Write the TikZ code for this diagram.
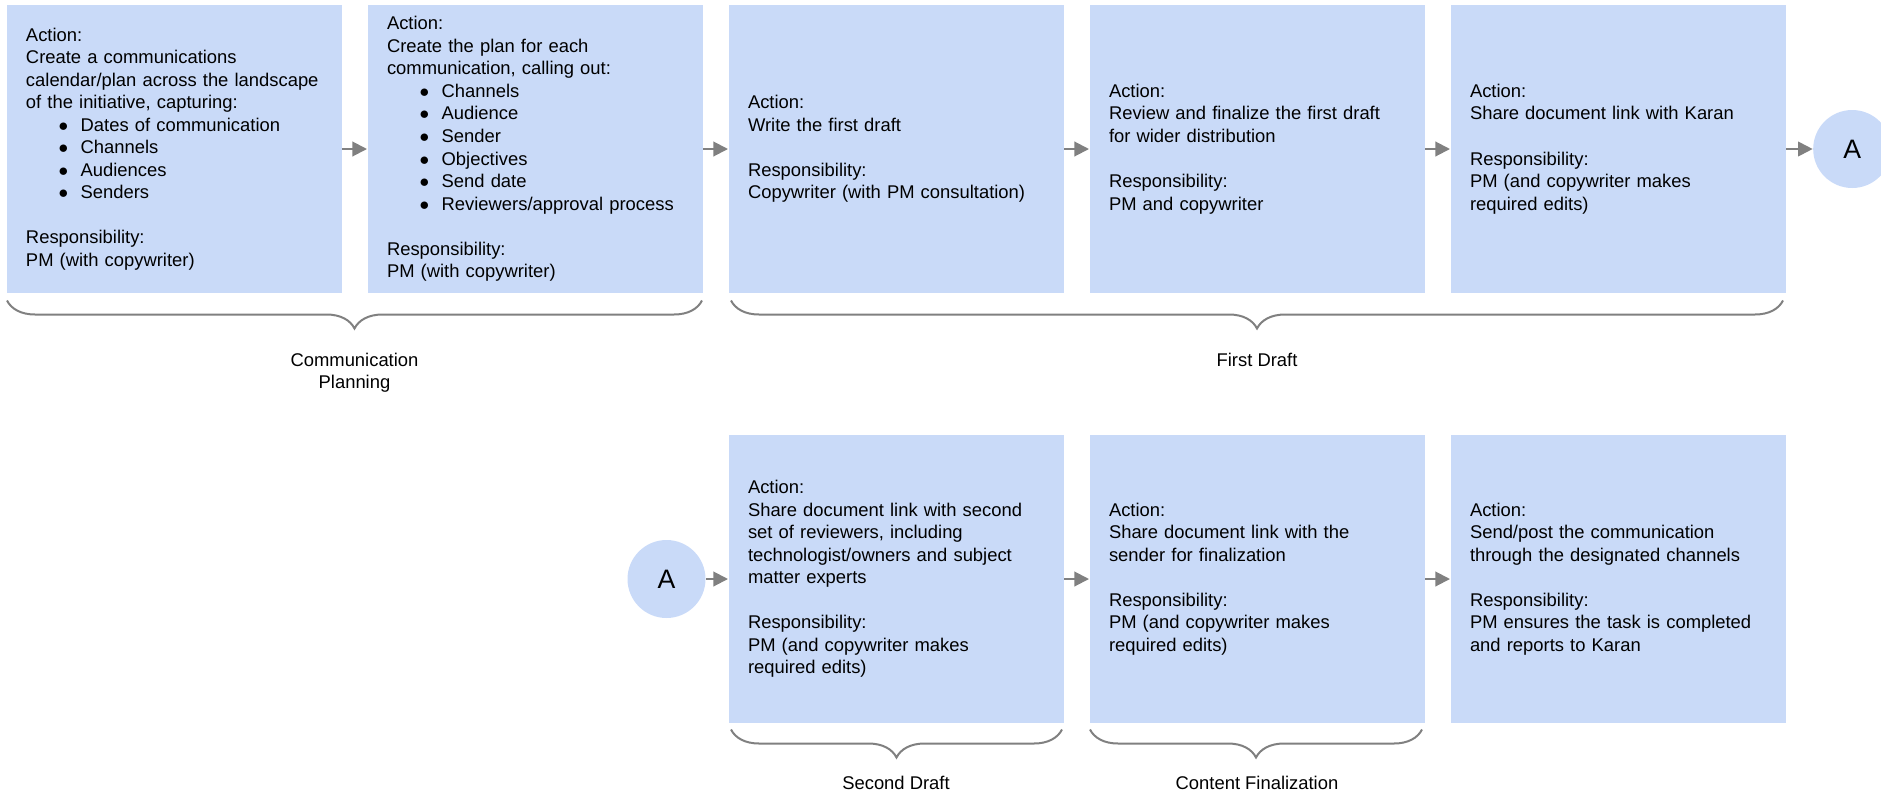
\documentclass[tikz,border=0pt]{standalone}
\usepackage{fontspec}
\setmainfont{Liberation Sans}
\usetikzlibrary{positioning,calc,arrows.meta,decorations.pathreplacing}

\definecolor{boxblue}{RGB}{201,218,248}
\definecolor{linegray}{RGB}{128,128,128}
\newcommand{\bitem}[1]{\makebox[41pt][l]{\hspace*{24.5pt}$\bullet$}#1}

\tikzset{every picture/.style={line width=0.75pt}}
\tikzset{
  stepbox/.style={fill=boxblue, minimum width=251.25pt, minimum height=216pt, text width=222pt, inner sep=0pt, align=left, font=\fontsize{13.8}{16.9}\selectfont},
  linkcircle/.style={circle, fill=boxblue, minimum size=58.5pt, inner sep=0pt, font=\fontsize{20}{24}\selectfont},
  flowarrow/.style={draw=linegray, line width=1.5pt, -{Triangle[length=11pt,width=11pt]}},
  phasebrace/.style={draw=linegray, line width=1.5pt, decorate, decoration={brace, mirror, amplitude=21pt}},
  phaselabel/.style={anchor=north, inner sep=0pt, align=center, font=\fontsize{13.8}{16.9}\selectfont}
}

\begin{document}
\begin{tikzpicture}[x=0.75pt,y=0.75pt,yscale=-1,xscale=1]
\useasboundingbox (0,0) rectangle (1881,793);

% Row 1
\node[stepbox] (b1) at (174,149) {Action:\\Create a communications\\calendar/plan across the landscape\\of the initiative, capturing:\\
  \bitem{Dates of communication}\\\bitem{Channels}\\\bitem{Audiences}\\\bitem{Senders}\\[16.9pt]
  Responsibility:\\PM (with copywriter)};
\node[stepbox, right=18.75pt of b1] (b2) {Action:\\Create the plan for each\\communication, calling out:\\
  \bitem{Channels}\\\bitem{Audience}\\\bitem{Sender}\\\bitem{Objectives}\\\bitem{Send date}\\\bitem{Reviewers/approval process}\\[16.9pt]
  Responsibility:\\PM (with copywriter)};
\node[stepbox, right=18.75pt of b2] (b3) {Action:\\Write the first draft\\[16.9pt]Responsibility:\\Copywriter (with PM consultation)};
\node[stepbox, right=18.75pt of b3] (b4) {Action:\\Review and finalize the first draft\\for wider distribution\\[16.9pt]Responsibility:\\PM and copywriter};
\node[stepbox, right=18.75pt of b4] (b5) {Action:\\Share document link with Karan\\[16.9pt]Responsibility:\\PM (and copywriter makes\\required edits)};
\node[linkcircle, right=20pt of b5] (a1) {A};

% Row 2
\node[stepbox, below=105.75pt of b3] (b6) {Action:\\Share document link with second\\set of reviewers, including\\technologist/owners and subject\\matter experts\\[16.9pt]Responsibility:\\PM (and copywriter makes\\required edits)};
\node[stepbox, right=18.75pt of b6] (b7) {Action:\\Share document link with the\\sender for finalization\\[16.9pt]Responsibility:\\PM (and copywriter makes\\required edits)};
\node[stepbox, right=18.75pt of b7] (b8) {Action:\\Send/post the communication\\through the designated channels\\[16.9pt]Responsibility:\\PM ensures the task is completed\\and reports to Karan};
\node[linkcircle, left=16.5pt of b6] (a2) {A};

% Arrows
\draw[flowarrow] (b1.east) -- (b2.west);
\draw[flowarrow] (b2.east) -- (b3.west);
\draw[flowarrow] (b3.east) -- (b4.west);
\draw[flowarrow] (b4.east) -- (b5.west);
\draw[flowarrow] (b5.east) -- (a1.west);
\draw[flowarrow] (a2.east) -- (b6.west);
\draw[flowarrow] (b6.east) -- (b7.west);
\draw[flowarrow] (b7.east) -- (b8.west);

% Braces
\draw[phasebrace] ($(b1.south west)+(1,7)$) -- ($(b2.south east)+(-1,7)$);
\draw[phasebrace] ($(b3.south west)+(3,7)$) -- ($(b5.south east)+(-3,7)$);
\draw[phasebrace] ($(b6.south west)+(3,6)$) -- ($(b6.south east)+(-2,6)$);
\draw[phasebrace] ($(b7.south west)+(1,6)$) -- ($(b7.south east)+(-3,6)$);

% Text Node
\node[phaselabel] (lplan) at ($(b1.south west)!0.5!(b2.south east)+(0,59)$) {Communication\\Planning};
\node[phaselabel] (lfirst) at ($(b3.south west)!0.5!(b5.south east)+(0,59)$) {First Draft};
\node[phaselabel] (lsecond) at ($(b6.south west)!0.5!(b6.south east)+(0,52)$) {Second Draft};
\node[phaselabel] (lfinal) at ($(b7.south west)!0.5!(b7.south east)+(0,52)$) {Content Finalization};
\end{tikzpicture}
\end{document}
